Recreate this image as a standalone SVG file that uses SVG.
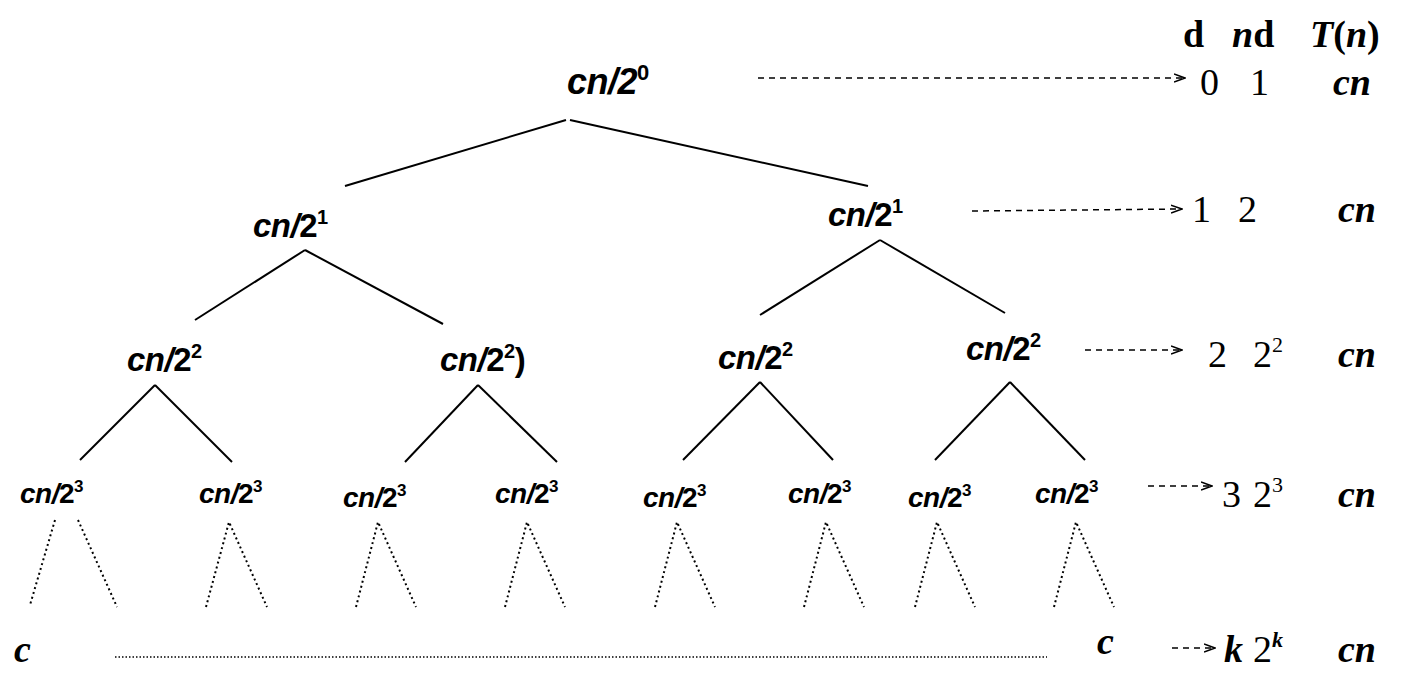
<svg xmlns="http://www.w3.org/2000/svg" width="1428" height="680" viewBox="0 0 1428 680">
<style>
.n{font-family:"Liberation Sans",Arial,sans-serif;font-weight:bold;font-style:italic;fill:#000;letter-spacing:-0.5px}
.u{font-style:normal}
.t{font-family:"Liberation Serif","Times New Roman",serif;fill:#000;font-size:38px}
.b{font-weight:bold}
.i{font-style:italic;font-weight:bold}
.e{stroke:#000;stroke-width:2;fill:none}
.d{stroke:#000;stroke-width:2;fill:none;stroke-dasharray:2 3}
.a{stroke:#000;stroke-width:1.5;fill:none;stroke-dasharray:6 5}
</style>
<defs><marker id="ar" markerWidth="12" markerHeight="10" refX="11" refY="5" orient="auto" markerUnits="userSpaceOnUse"><path d="M0,1 L11,5 L0,9" fill="none" stroke="#000" stroke-width="1.5"/></marker></defs>
<g id="connectors">
<line class="e" x1="566" y1="120" x2="345" y2="186"/><line class="e" x1="570" y1="120" x2="868" y2="186"/>
<line class="e" x1="305" y1="250" x2="195" y2="320"/><line class="e" x1="305" y1="250" x2="443" y2="324"/>
<line class="e" x1="880" y1="240" x2="760" y2="315"/><line class="e" x1="880" y1="240" x2="1005" y2="313"/>
<line class="e" x1="155" y1="385" x2="80" y2="460"/><line class="e" x1="155" y1="385" x2="232" y2="462"/>
<line class="e" x1="478" y1="385" x2="405" y2="462"/><line class="e" x1="478" y1="385" x2="557" y2="462"/>
<line class="e" x1="760" y1="382" x2="683" y2="460"/><line class="e" x1="760" y1="382" x2="833" y2="460"/>
<line class="e" x1="1010" y1="382" x2="935" y2="460"/><line class="e" x1="1010" y1="382" x2="1085" y2="460"/>
<line class="d" x1="55" y1="520" x2="30" y2="605"/><line class="d" x1="78" y1="520" x2="117" y2="607"/>
<path class="d" d="M206,607 L229,522 L267,607 M356,607 L378,522 L416,607 M505,607 L527,522 L565,607 M655,607 L677,522 L715,607 M804,607 L826,522 L864,607 M915,607 L937,522 L975,607 M1054,607 L1076,522 L1114,607"/>
<line class="d" x1="115" y1="657" x2="1047" y2="657" style="stroke-width:1.5;stroke-dasharray:1.5 2"/>
<line class="a" x1="758" y1="78" x2="1185" y2="78" marker-end="url(#ar)"/>
<line class="a" x1="972" y1="211" x2="1182" y2="209" marker-end="url(#ar)"/>
<line class="a" x1="1085" y1="350" x2="1182" y2="350" marker-end="url(#ar)"/>
<line class="a" x1="1148" y1="486" x2="1212" y2="486" marker-end="url(#ar)"/>
<line class="a" x1="1172" y1="648" x2="1215" y2="648" marker-end="url(#ar)"/>
</g>
<g id="root"><text class="n" x="567" y="94" font-size="36">cn/<tspan>2</tspan><tspan font-size="22" dy="-14" class="u">0</tspan></text></g>
<g id="l1a"><text class="n" x="253" y="237" font-size="33">cn/<tspan class="u">2</tspan><tspan font-size="20" dy="-13" class="u">1</tspan></text></g>
<g id="l1b"><text class="n" x="828" y="226" font-size="33">cn/<tspan class="u">2</tspan><tspan font-size="20" dy="-13" class="u">1</tspan></text></g>
<g id="l2a"><text class="n" x="127" y="371" font-size="33">cn/<tspan class="u">2</tspan><tspan font-size="20" dy="-13" class="u">2</tspan></text></g>
<g id="l2b"><text class="n" x="440" y="371" font-size="33">cn/<tspan class="u">2</tspan><tspan font-size="20" dy="-13" class="u">2</tspan><tspan dy="13" class="u">)</tspan></text></g>
<g id="l2c"><text class="n" x="718" y="369" font-size="33">cn/<tspan class="u">2</tspan><tspan font-size="20" dy="-13" class="u">2</tspan></text></g>
<g id="l2d"><text class="n" x="966" y="360" font-size="33">cn/<tspan class="u">2</tspan><tspan font-size="20" dy="-13" class="u">2</tspan></text></g>
<g id="l3a"><text class="n" x="20" y="503" font-size="28">cn/<tspan class="u">2</tspan><tspan font-size="17" dy="-11" class="u">3</tspan></text></g>
<g id="l3b"><text class="n" x="199" y="503" font-size="28">cn/<tspan class="u">2</tspan><tspan font-size="17" dy="-11" class="u">3</tspan></text></g>
<g id="l3c"><text class="n" x="343" y="507" font-size="28">cn/<tspan class="u">2</tspan><tspan font-size="17" dy="-11" class="u">3</tspan></text></g>
<g id="l3d"><text class="n" x="495" y="503" font-size="28">cn/<tspan class="u">2</tspan><tspan font-size="17" dy="-11" class="u">3</tspan></text></g>
<g id="l3e"><text class="n" x="643" y="507" font-size="28">cn/<tspan class="u">2</tspan><tspan font-size="17" dy="-11" class="u">3</tspan></text></g>
<g id="l3f"><text class="n" x="788" y="503" font-size="28">cn/<tspan class="u">2</tspan><tspan font-size="17" dy="-11" class="u">3</tspan></text></g>
<g id="l3g"><text class="n" x="908" y="507" font-size="28">cn/<tspan class="u">2</tspan><tspan font-size="17" dy="-11" class="u">3</tspan></text></g>
<g id="l3h"><text class="n" x="1035" y="503" font-size="28">cn/<tspan class="u">2</tspan><tspan font-size="17" dy="-11" class="u">3</tspan></text></g>
<g id="leafL"><text class="t i" x="14" y="662" font-size="38">c</text></g>
<g id="leafR"><text class="t i" x="1097" y="654" font-size="38">c</text></g>
<g id="table">
<text class="t b" x="1183" y="47" font-size="42">d</text>
<text class="t b" x="1232" y="47" font-size="42"><tspan font-style="italic">n</tspan>d</text>
<text class="t i" x="1310" y="47" font-size="42">T<tspan font-style="normal">(</tspan>n<tspan font-style="normal">)</tspan></text>
<text class="t" x="1200" y="95">0</text><text class="t" x="1250" y="95">1</text><text class="t i" x="1333" y="95">cn</text>
<text class="t" x="1192" y="222">1</text><text class="t" x="1238" y="222">2</text><text class="t i" x="1338" y="222">cn</text>
<text class="t" x="1208" y="367">2</text><text class="t" x="1253" y="367">2<tspan font-size="22" dy="-15">2</tspan></text><text class="t i" x="1338" y="367">cn</text>
<text class="t" x="1222" y="507">3</text><text class="t" x="1253" y="507">2<tspan font-size="22" dy="-15">3</tspan></text><text class="t i" x="1338" y="507">cn</text>
<text class="t i" x="1224" y="662">k</text><text class="t" x="1253" y="662">2<tspan font-size="22" dy="-15" font-style="italic" font-weight="bold">k</tspan></text><text class="t i" x="1338" y="662">cn</text>
</g>
</svg>
